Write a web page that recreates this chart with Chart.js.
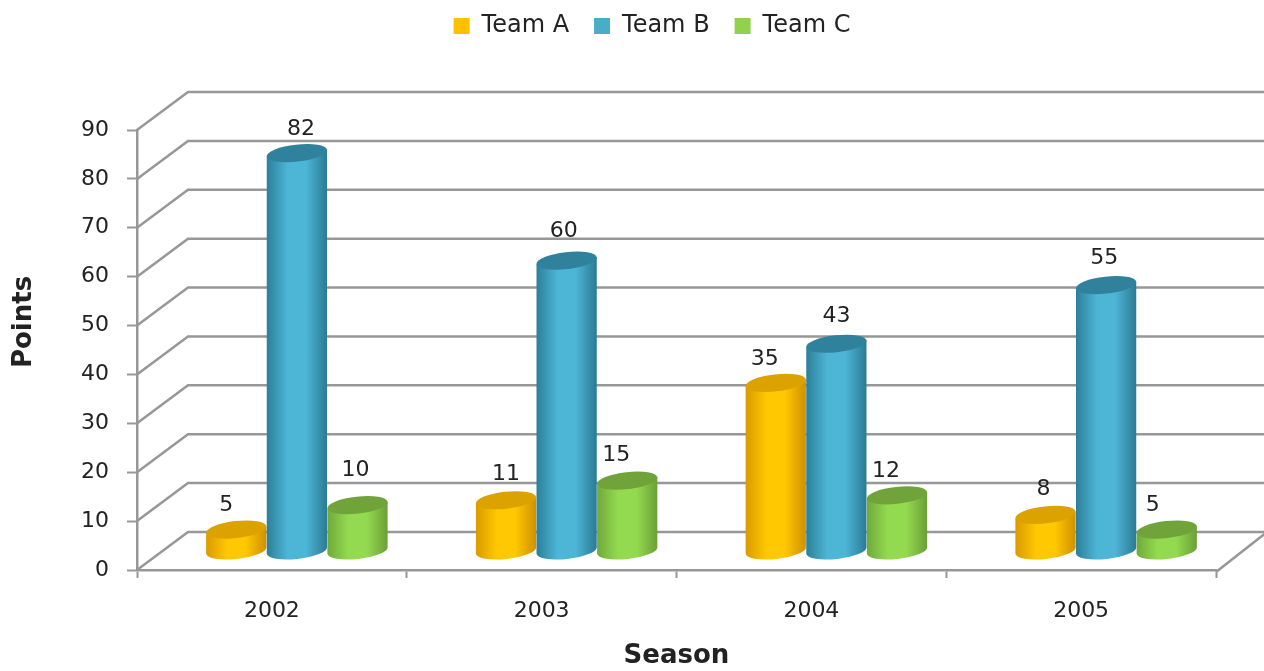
<!DOCTYPE html>
<html>
<head>
<meta charset="utf-8">
<style>
  html, body { margin: 0; padding: 0; background: #fff; }
  canvas { display: block; }
</style>
<script src="https://cdn.jsdelivr.net/npm/chart.js@4"></script>
</head>
<body>
<canvas id="myChart" width="1264" height="671"></canvas>
<script>
const seasons = ['2002', '2003', '2004', '2005'];
const teamA = [5, 11, 35, 8];
const teamB = [82, 60, 43, 55];
const teamC = [10, 15, 12, 5];

const fontName = '"DejaVu Sans", sans-serif';
const textColor = '#222';
const lineColor = '#979797';

// fake 3d depth of the wall and where the cylinders stand in it
const wallX = 51, wallY = -38;
const barX = 25, baseY = -19, topY = -16;
const ellipseRy = 8.5, tilt = -0.11;

// colours: edge, middle, edge, lid
const shades = [
    ['#d99a00', '#ffc800', '#cf9000', '#dca200'],
    ['#2b7f99', '#4db5d6', '#2a7a94', '#30829c'],
    ['#6fa93a', '#94da50', '#6a9f36', '#70a43b']
];

// the labels in the picture were placed by hand, dx/dy per series and category
const labelDx = [[-10, 0, -11, -2], [4, -3, 0, -2], [-2, -11, -11, -14]];
const labelDy = [[-24, -26, -24, -26], [-24, -29, -27, -27], [-35, -25, -24, -24]];

function drawCylinder(c, el, colors) {
    const w = el.width / 2;
    const cx = el.x + barX;
    const top = el.y + topY;
    const bottom = el.base + baseY;
    const dx = w * Math.cos(tilt), dy = w * Math.sin(tilt);

    const grad = c.createLinearGradient(cx - w, 0, cx + w, 0);
    grad.addColorStop(0, colors[0]);
    grad.addColorStop(0.35, colors[1]);
    grad.addColorStop(0.65, colors[1]);
    grad.addColorStop(1, colors[2]);

    c.beginPath();
    c.moveTo(cx - dx, top - dy);
    c.lineTo(cx - dx, bottom - dy);
    c.ellipse(cx, bottom, w, ellipseRy, tilt, Math.PI, 0, true);
    c.lineTo(cx + dx, top + dy);
    c.closePath();
    c.fillStyle = grad;
    c.fill();

    c.beginPath();
    c.ellipse(cx, top, w, ellipseRy, tilt, 0, Math.PI * 2);
    c.fillStyle = colors[3];
    c.fill();
}

const wall3d = {
    id: 'wall3d',
    afterLayout(chart) {
        // legend sits higher and further right than the library puts it
        const lg = chart.legend;
        lg.top = -11;
        lg.left += 44;
        lg.right += 44;
    },
    beforeDatasetsDraw(chart) {
        const c = chart.ctx;
        const y = chart.scales.y;
        const { left, right, bottom } = chart.chartArea;
        c.save();
        c.strokeStyle = lineColor;
        c.lineWidth = 2.5;
        y.ticks.forEach(t => {
            const py = y.getPixelForValue(t.value);
            c.beginPath();
            c.moveTo(left, py);
            c.lineTo(left + wallX, py + wallY);
            c.lineTo(chart.width, py + wallY);
            c.stroke();
        });
        c.beginPath();
        c.moveTo(right, bottom + 2);
        c.lineTo(right + wallX, bottom + wallY);
        c.stroke();
        c.restore();

        // left to right, each series over the one before it
        chart.data.datasets.forEach((ds, i) => {
            chart.getDatasetMeta(i).data.forEach(el => drawCylinder(c, el, shades[i]));
        });
    },
    beforeDatasetDraw() {
        return false;
    },
    afterDatasetsDraw(chart) {
        const c = chart.ctx;
        c.save();
        c.font = '22px ' + fontName;
        c.fillStyle = textColor;
        c.textAlign = 'center';
        c.textBaseline = 'middle';
        chart.data.datasets.forEach((ds, i) => {
            chart.getDatasetMeta(i).data.forEach((el, j) => {
                c.fillText(ds.data[j], el.x + barX + labelDx[i][j], el.y + topY + labelDy[i][j]);
            });
        });
        c.font = 'bold 26px ' + fontName;
        c.translate(24, 322);
        c.rotate(-Math.PI / 2);
        c.fillText('Points', 0, 0);
        c.restore();
    }
};

new Chart(document.getElementById('myChart'), {
    type: 'bar',
    data: {
        labels: seasons,
        datasets: [
            { label: 'Team A', data: teamA, backgroundColor: '#ffc000' },
            { label: 'Team B', data: teamB, backgroundColor: '#4bacc6' },
            { label: 'Team C', data: teamC, backgroundColor: '#92d050' }
        ]
    },
    options: {
        responsive: false,
        animation: false,
        events: [],
        layout: { padding: { top: 71, right: 48 } },
        categoryPercentage: 0.674,
        barPercentage: 1,
        plugins: {
            tooltip: { enabled: false },
            legend: {
                position: 'top',
                labels: {
                    boxWidth: 16,
                    boxHeight: 16,
                    padding: 25,
                    color: textColor,
                    font: { family: fontName, size: 24 }
                }
            }
        },
        scales: {
            x: {
                afterFit(s) { s.height = 101; },
                grid: { drawOnChartArea: false, tickLength: 8, tickColor: lineColor, tickWidth: 2 },
                border: { color: lineColor, width: 2.5 },
                ticks: { color: textColor, padding: 20, font: { family: fontName, size: 22 } },
                title: {
                    display: true,
                    text: 'Season',
                    color: textColor,
                    padding: 0,
                    font: { family: fontName, size: 26, weight: 'bold', lineHeight: 1.1 }
                }
            },
            y: {
                min: 0,
                max: 90,
                afterFit(s) { s.width = 137; },
                grid: { drawOnChartArea: false, tickLength: 10, tickColor: lineColor, tickWidth: 2 },
                border: { color: lineColor, width: 2.5 },
                ticks: { stepSize: 10, color: textColor, padding: 18, font: { family: fontName, size: 22 } }
            }
        }
    },
    plugins: [wall3d]
});
</script>
</body>
</html>
